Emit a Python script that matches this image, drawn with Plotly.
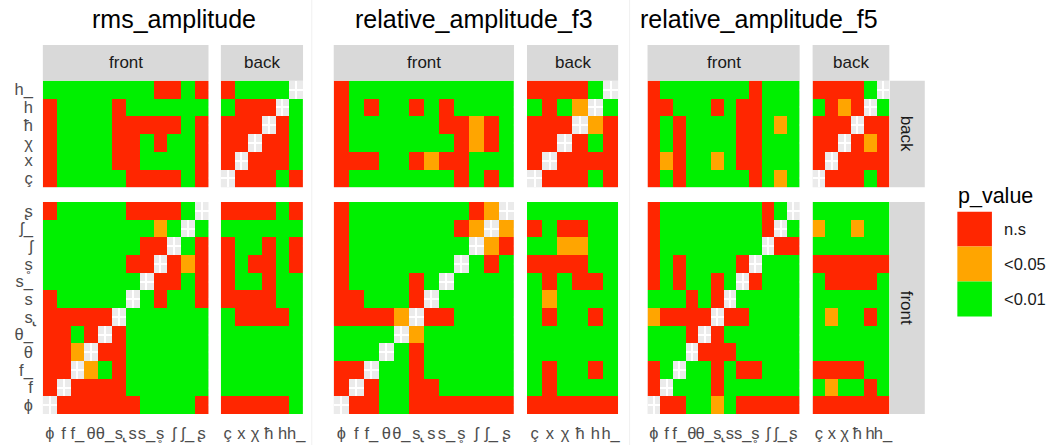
import plotly.graph_objects as go

# ---------------- data ----------------
front = ["ɸ", "f", "f_", "θ", "θ_", "s̢", "s", "s_", "s̥", "ʃ", "ʃ_", "ʂ"]
back = ["ç", "x", "χ", "ħ", "h", "h_"]
row_order = back[::-1] + front[::-1]          # rows, top -> bottom
metrics = ["rms_amplitude", "relative_amplitude_f3", "relative_amplitude_f5"]
p_levels = ["n.s", "<0.05", "<0.01"]          # codes R, O, G ; '-' = NA

# each row: 12 front columns + 6 back columns (ɸ..ʂ | ç..h_)
rms_amplitude = [
    "GGGGGGGGRRGR RGGGG-",  # h_
    "RGGGGRGGGGGG GRRR-G",  # h
    "RGGGGRRRRRGR RRR-RG",  # ħ
    "RGGGGRRGRGGR RR-RRG",  # χ
    "RGGGGRRGGGGR R-RRRG",  # x
    "RGGGGGRRRRGR -RRRGR",  # ç
    "RGGGGGRRRRG- RRRRGR",  # ʂ
    "GGGGGGGGOG-G GGGGGG",  # ʃ_
    "GGGGGGGRR-GR RGGRGR",  # ʃ
    "GGGGGGRR-ROR RGRRGR",  # s̥
    "GGGGGGG-RRGR RGGRGG",  # s_
    "RGGGGG-GRGGR RRRRGG",  # s
    "RRRRR-GGGGGG GRRRRG",  # s̢
    "RRGR-RGGGGGG GGGGGG",  # θ_
    "RRO-RRGGGGGG GGGGGG",  # θ
    "RR-OGRGGGGGG GGGGGG",  # f_
    "R-RRRRGGGGGG GGGGGG",  # f
    "-RRRRRRGGGGR RRRRRG",  # ɸ
]
relative_amplitude_f3 = [
    "RGGGGGGGGGGG RRRRG-",
    "RGRGGRGRGGGG GRGO-G",
    "RGGGGGGRRORG RRR-OR",
    "RGGGGGGGRORG RR-RGR",
    "RRRGGRORRGGG R-RRRR",
    "RGGGGGGGRGRG -RRRGR",
    "RGGGGGGGGRO- GGGGGG",
    "RGGGGGGGRO-O RGRRGG",
    "RGGGGGGGG-OR GGOOGG",
    "RGGGGGGG-GRG RRRRGG",
    "RGGGGRG-GGGG GRGRRG",
    "RRGGGR-GGGGG GOGGGG",
    "RRRRO-RRGGGG GRGGRG",
    "GGGG-OGGGGGG GGGGGG",
    "GGG-GRGGGGGG GGGGGG",
    "RR-GGRGGGGGG GRGGRG",
    "R-RGGRRGGGGG GRGGGG",
    "-RRGGRRRRRRR RRRRRR",
]
relative_amplitude_f5 = [
    "RGGGGGGGRGGG RRRRG-",
    "RRGGGRGRRGGG GROR-G",
    "RGRGGGGRRGOG RRR-RR",
    "RGRGGGGRRGGG RR-ROR",
    "RORGGOGRRGGG R-RRRR",
    "RGRGGGGGRGOG -RRRGR",
    "RGGGGGGGGRG- GGGGGG",
    "RGGGGGGGGR-G OGGOGG",
    "RGGGGGGGG-RR GGGGGG",
    "RGRGGGGR-GGG RRRRRR",
    "RGRGGRG-RGGG GRRRRG",
    "GGGRGR-GGGGG GGGGGG",
    "ORRRR-RRGGGG GOGGRG",
    "GGGR-RGGGGGG GGGGGG",
    "GGG-RRRGGGGG GGGGGG",
    "RG-GGRGRRGGG RRRRGG",
    "R-GGGRGGGGGG GOGGRG",
    "-RRGGOGRRRRR RRRRRR",
]
matrices = [rms_amplitude, relative_amplitude_f3, relative_amplitude_f5]

# ---------------- style ----------------
W, H = 1053, 445
RED, ORANGE, GREEN = "#FF2600", "#FFA500", "#00F000"
FONT = "Liberation Sans, Arial, Helvetica, sans-serif"
code = {"G": 0, "O": 1, "R": 2, "-": None}
cscale = [[0, GREEN], [0.25, GREEN], [0.25, ORANGE], [0.75, ORANGE], [0.75, RED], [1, RED]]

# pixel geometry
col_px = [
    [(43, 209.3), (221.7, 304.2)],
    [(335, 516), (529, 620.5)],
    [(650, 802.7), (815.7, 892.7)],
]
row_px = [(80.7, 187.3), (202, 414)]
strip_top = (45, 80.7)
strip_right = (893.3, 928.3)
title_cx = [175, 476, 762]


def px(x):
    return x / W


def py(y):
    return 1 - y / H


fig = go.Figure()
layout = {}
shapes = []
annotations = []

col_groups = [front, back]
row_groups = [back, front]  # top facet: back rows, bottom facet: front rows
col_offsets = [0, 12]

for p, (metric, mat) in enumerate(zip(metrics, matrices)):
    rows = {lab: s.replace(" ", "") for lab, s in zip(row_order, mat)}
    for r in range(2):
        for c in range(2):
            idx = p * 4 + r * 2 + c + 1
            cols = col_groups[c]
            rlabs = row_groups[r]  # bottom -> top
            off = col_offsets[c]
            z = [[code[rows[rl][off + j]] for j in range(len(cols))] for rl in rlabs]
            sfx = "" if idx == 1 else str(idx)
            fig.add_trace(go.Heatmap(
                z=z, x=list(range(len(cols))), y=list(range(len(rlabs))),
                zmin=0, zmax=2, colorscale=cscale, showscale=False,
                xaxis="x" + sfx, yaxis="y" + sfx, hoverongaps=False,
            ))
            x0, x1 = col_px[p][c]
            y0, y1 = row_px[r]
            layout["xaxis" + sfx] = dict(
                domain=[px(x0), px(x1)], anchor="y" + sfx,
                range=[-0.5, len(cols) - 0.5],
                tickmode="array", tickvals=list(range(len(cols))), ticktext=cols,
                showticklabels=(r == 1), tickangle=0, ticks="", ticklabelstandoff=7,
                tickfont=dict(family=FONT, size=16.5, color="#4D4D4D"),
                showgrid=True, gridcolor="white", gridwidth=1.6,
                zeroline=False, showline=False, fixedrange=True,
            )
            layout["yaxis" + sfx] = dict(
                domain=[py(y1), py(y0)], anchor="x" + sfx,
                range=[-0.5, len(rlabs) - 0.5],
                tickmode="array", tickvals=list(range(len(rlabs))), ticktext=rlabs,
                showticklabels=(p == 0 and c == 0), ticks="", ticklabelstandoff=9,
                tickfont=dict(family=FONT, size=16.5, color="#4D4D4D"),
                showgrid=True, gridcolor="white", gridwidth=1.6,
                zeroline=False, showline=False, fixedrange=True,
            )
    # top strips
    for c, name in enumerate(["front", "back"]):
        x0, x1 = col_px[p][c]
        shapes.append(dict(type="rect", xref="paper", yref="paper",
                           x0=px(x0), x1=px(x1), y0=py(strip_top[1]), y1=py(strip_top[0]),
                           fillcolor="#D9D9D9", line=dict(width=0), layer="below"))
        annotations.append(dict(x=px((x0 + x1) / 2), y=py((strip_top[0] + strip_top[1]) / 2),
                                xref="paper", yref="paper", text=name, showarrow=False,
                                font=dict(family=FONT, size=17, color="#1A1A1A"),
                                xanchor="center", yanchor="middle"))
    # title
    annotations.append(dict(x=px(title_cx[p]), y=py(19), xref="paper", yref="paper",
                            text=metric, showarrow=False,
                            font=dict(family=FONT, size=25, color="black"),
                            xanchor="center", yanchor="middle"))

# right strips (last panel only)
for r, name in enumerate(["back", "front"]):
    y0, y1 = row_px[r]
    shapes.append(dict(type="rect", xref="paper", yref="paper",
                       x0=px(strip_right[0]), x1=px(strip_right[1]), y0=py(y1), y1=py(y0),
                       fillcolor="#D9D9D9", line=dict(width=0), layer="below"))
    annotations.append(dict(x=px(sum(strip_right) / 2), y=py((y0 + y1) / 2),
                            xref="paper", yref="paper", text=name, showarrow=False, textangle=90,
                            font=dict(family=FONT, size=17, color="#1A1A1A"),
                            xanchor="center", yanchor="middle"))

# faint separators between the three plots
for xs in [313, 632]:
    shapes.append(dict(type="line", xref="paper", yref="paper", x0=px(xs), x1=px(xs),
                       y0=0, y1=1, line=dict(color="#F0F0F0", width=1)))

# legend
annotations.append(dict(x=px(960), y=py(196), xref="paper", yref="paper", text="p_value",
                        showarrow=False, font=dict(family=FONT, size=21.5, color="black"),
                        xanchor="left", yanchor="middle"))
key_cols = [RED, ORANGE, GREEN]
for i, (lab, col) in enumerate(zip(p_levels, key_cols)):
    k0 = 211.7 + i * 34.9
    shapes.append(dict(type="rect", xref="paper", yref="paper",
                       x0=px(961), x1=px(995.7), y0=py(k0 + 34.9), y1=py(k0),
                       fillcolor=col, line=dict(width=0)))
    annotations.append(dict(x=px(1006), y=py(k0 + 17.4), xref="paper", yref="paper", text=lab,
                            showarrow=False, font=dict(family=FONT, size=16.5, color="#1A1A1A"),
                            xanchor="left", yanchor="middle"))

fig.update_layout(
    width=W, height=H, margin=dict(l=0, r=0, t=0, b=0),
    paper_bgcolor="white", plot_bgcolor="#EBEBEB",
    showlegend=False, shapes=shapes, annotations=annotations,
    **layout,
)
fig.write_html("out.html", config={"displayModeBar": False})
